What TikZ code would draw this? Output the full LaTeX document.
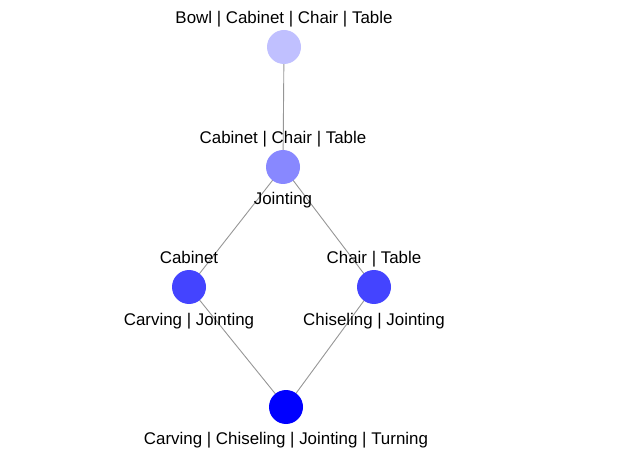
\documentclass[tikz,border=0pt]{standalone}
\usepackage{fontspec}
\setmainfont{Liberation Sans}
\usetikzlibrary{positioning, backgrounds}
\definecolor{lvlA}{RGB}{192,192,255}
\definecolor{lvlB}{RGB}{136,136,255}
\definecolor{lvlC}{RGB}{68,68,255}
\definecolor{lvlD}{RGB}{0,0,255}
\definecolor{edgegray}{RGB}{150,150,150}
\begin{document}
\begin{tikzpicture}[
        x=1pt, y=-1pt,
        every node/.style={font=\fontsize{16.9}{19}\selectfont},
        concept/.style={circle, minimum size=34pt, inner sep=0pt},
        txt/.style={anchor=base, inner sep=0pt},
        edge/.style={draw=edgegray, line width=0.9pt}
    ]
        \useasboundingbox (0,0) rectangle (632,457);

        \node[concept, fill=lvlA] (top)   at (284,47)  {};
        \node[concept, fill=lvlB] (mid)   at (283,167) {};
        \node[concept, fill=lvlC] (cab)   at (189,287) {};
        \node[concept, fill=lvlC] (chtb)  at (374,287) {};
        \node[concept, fill=lvlD] (bot)   at (286,407) {};

        % edges behind the circles
        \begin{pgfonlayer}{background}
        \draw[edge] (top.center) -- (mid.center);
        \draw[edge] (mid.center) -- (cab.center);
        \draw[edge] (mid.center) -- (chtb.center);
        \draw[edge] (cab.center) -- (bot.center);
        \draw[edge] (chtb.center) -- (bot.center);
        \end{pgfonlayer}

        % extents and intents
        \node[txt] (topext)  at (284,24)  {Bowl | Cabinet | Chair | Table};
        \node[txt] (midext)  at (283,144) {Cabinet | Chair | Table};
        \node[txt] (midint)  at (283,205) {Jointing};
        \node[txt] (cabext)  at (189,264) {Cabinet};
        \node[txt] (cabint)  at (189,325) {Carving | Jointing};
        \node[txt] (chtbext) at (374,264) {Chair | Table};
        \node[txt] (chtbint) at (374,325) {Chiseling | Jointing};
        \node[txt] (botint)  at (286,444) {Carving | Chiseling | Jointing | Turning};
    \end{tikzpicture}
\end{document}
